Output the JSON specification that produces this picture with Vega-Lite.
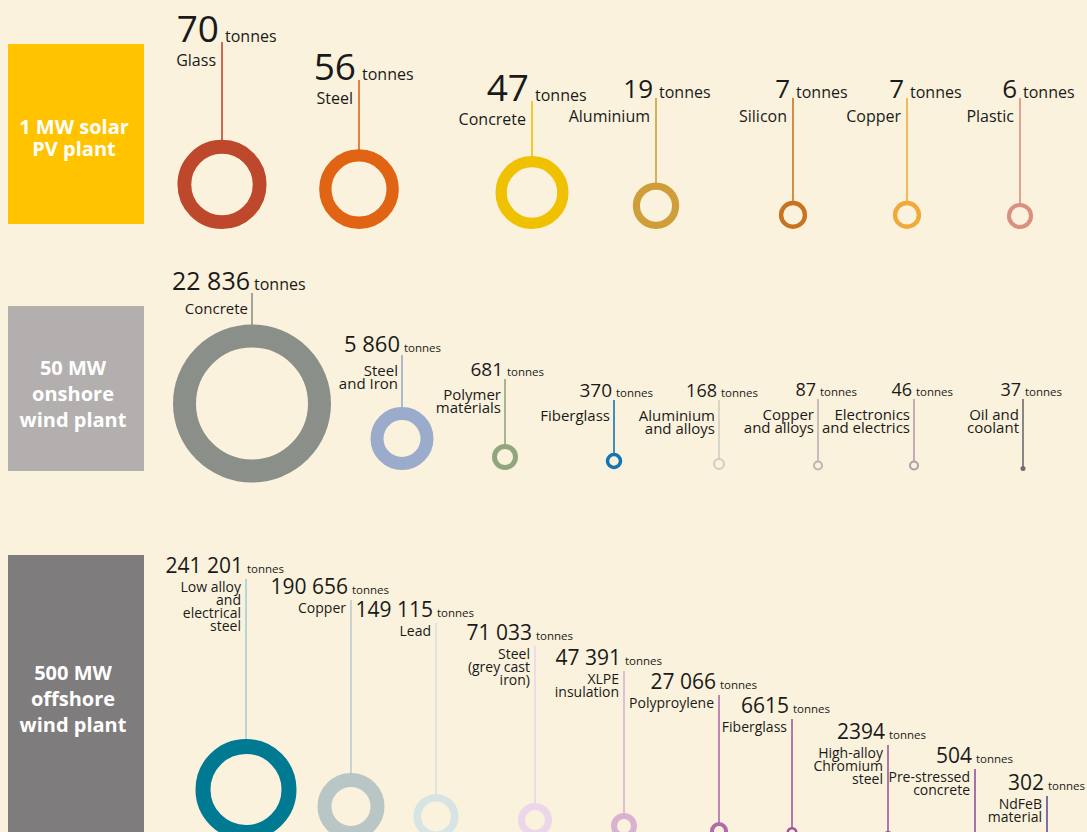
{
  "$schema": "https://vega.github.io/schema/vega-lite/v6.json",
  "width": 1087,
  "height": 832,
  "padding": 0,
  "autosize": "none",
  "background": "#FAF2DC",
  "config": {
    "view": {"stroke": null},
    "locale": {"number": {"decimal": ".", "thousands": " ", "grouping": [3], "currency": ["", ""]}},
    "text": {"font": "Open Sans"}
  },
  "datasets": {
    "plants": [
      {"plant": "1 MW solar PV plant", "order": 0, "label": "1 MW solar\nPV plant"},
      {"plant": "50 MW onshore wind plant", "order": 0, "label": "50 MW\nonshore\nwind plant"},
      {"plant": "500 MW offshore wind plant", "order": 0, "label": "500 MW\noffshore\nwind plant"}
    ],
    "materials": [
      {"plant": "1 MW solar PV plant", "order": 1, "material": "Glass", "value": 70},
      {"plant": "1 MW solar PV plant", "order": 2, "material": "Steel", "value": 56},
      {"plant": "1 MW solar PV plant", "order": 3, "material": "Concrete", "value": 47},
      {"plant": "1 MW solar PV plant", "order": 4, "material": "Aluminium", "value": 19},
      {"plant": "1 MW solar PV plant", "order": 5, "material": "Silicon", "value": 7},
      {"plant": "1 MW solar PV plant", "order": 6, "material": "Copper", "value": 7},
      {"plant": "1 MW solar PV plant", "order": 7, "material": "Plastic", "value": 6},
      {"plant": "50 MW onshore wind plant", "order": 1, "material": "Concrete", "value": 22836},
      {"plant": "50 MW onshore wind plant", "order": 2, "material": "Steel\nand Iron", "value": 5860},
      {"plant": "50 MW onshore wind plant", "order": 3, "material": "Polymer\nmaterials", "value": 681},
      {"plant": "50 MW onshore wind plant", "order": 4, "material": "Fiberglass", "value": 370},
      {"plant": "50 MW onshore wind plant", "order": 5, "material": "Aluminium\nand alloys", "value": 168},
      {"plant": "50 MW onshore wind plant", "order": 6, "material": "Copper\nand alloys", "value": 87},
      {"plant": "50 MW onshore wind plant", "order": 7, "material": "Electronics\nand electrics", "value": 46},
      {"plant": "50 MW onshore wind plant", "order": 8, "material": "Oil and\ncoolant", "value": 37},
      {"plant": "500 MW offshore wind plant", "order": 1, "material": "Low alloy\nand\nelectrical\nsteel", "value": 241201},
      {"plant": "500 MW offshore wind plant", "order": 2, "material": "Copper", "value": 190656},
      {"plant": "500 MW offshore wind plant", "order": 3, "material": "Lead", "value": 149115},
      {"plant": "500 MW offshore wind plant", "order": 4, "material": "Steel\n(grey cast\niron)", "value": 71033},
      {"plant": "500 MW offshore wind plant", "order": 5, "material": "XLPE\ninsulation", "value": 47391},
      {"plant": "500 MW offshore wind plant", "order": 6, "material": "Polyproylene", "value": 27066},
      {"plant": "500 MW offshore wind plant", "order": 7, "material": "Fiberglass", "value": 6615},
      {"plant": "500 MW offshore wind plant", "order": 8, "material": "High-alloy\nChromium\nsteel", "value": 2394},
      {"plant": "500 MW offshore wind plant", "order": 9, "material": "Pre-stressed\nconcrete", "value": 504},
      {"plant": "500 MW offshore wind plant", "order": 10, "material": "NdFeB\nmaterial", "value": 302}
    ]
  },
  "layer": [
    {
      "data": {"name": "materials"},
      "transform": [{"filter": "datum.plant == '1 MW solar PV plant'"}],
      "encoding": {
        "x": {"field": "order", "type": "quantitative", "axis": null,
              "scale": {"domain": [0, 1, 2, 3, 4, 5, 6, 7], "range": [76, 222, 359, 532, 656, 793, 907, 1020], "nice": false, "zero": false}}
      },
      "layer": [
        {
          "data": {"name": "plants"},
          "transform": [{"filter": "datum.plant == '1 MW solar PV plant'"}],
          "mark": {"type": "point", "shape": "M-1,-1.3235H1V1.3235H-1Z", "size": 18496, "filled": true, "fill": "#FFC300", "opacity": 1, "strokeWidth": 0},
          "encoding": {"y": {"field": "order", "type": "quantitative", "axis": null, "scale": {"domain": [0, 1, 2, 3, 4, 5, 6, 7], "range": [134, 42, 80, 101, 98, 98, 98, 98], "nice": false, "zero": false}}}
        },
        {
          "data": {"name": "plants"},
          "transform": [{"filter": "datum.plant == '1 MW solar PV plant'"}],
          "mark": {"type": "text", "align": "center", "baseline": "middle", "lineBreak": "\n", "lineHeight": 22, "fontSize": 20, "fontWeight": "bold", "font": "Open Sans", "color": "#FFFFFF", "dx": -2, "dy": -6},
          "encoding": {
            "y": {"field": "order", "type": "quantitative", "axis": null, "scale": {"domain": [0, 1, 2, 3, 4, 5, 6, 7], "range": [134, 42, 80, 101, 98, 98, 98, 98], "nice": false, "zero": false}},
            "text": {"field": "label", "type": "nominal"}
          }
        },
        {
          "mark": {"type": "rule", "strokeWidth": 1.6},
          "encoding": {
            "y": {"field": "order", "type": "quantitative", "axis": null, "scale": {"domain": [0, 1, 2, 3, 4, 5, 6, 7], "range": [134, 42, 80, 101, 98, 98, 98, 98], "nice": false, "zero": false}},
            "y2": {"value": 225},
            "stroke": {"field": "order", "type": "ordinal", "legend": null, "scale": {"domain": [1, 2, 3, 4, 5, 6, 7], "range": ["#BE482C", "#E06414", "#F0C100", "#CF9E3B", "#C8731F", "#F0AA3A", "#DA8F80"]}}
          }
        },
        {
          "mark": {"type": "point", "shape": "circle", "filled": true, "fill": "#FAF2DC", "opacity": 1},
          "encoding": {
            "y": {"field": "value", "type": "quantitative", "axis": null, "scale": {"type": "sqrt", "domain": [0, 70], "range": [229, 184.4], "nice": false, "zero": false}},
            "size": {"field": "value", "type": "quantitative", "legend": null, "scale": {"type": "linear", "domain": [0, 70], "range": [0, 5668]}},
            "strokeWidth": {"field": "value", "type": "quantitative", "legend": null, "scale": {"type": "sqrt", "domain": [0, 70], "range": [0, 13.8]}},
            "stroke": {"field": "order", "type": "ordinal", "legend": null, "scale": {"domain": [1, 2, 3, 4, 5, 6, 7], "range": ["#BE482C", "#E06414", "#F0C100", "#CF9E3B", "#C8731F", "#F0AA3A", "#DA8F80"]}}
          }
        },
        {
          "mark": {"type": "text", "align": "right", "baseline": "alphabetic", "dx": -3, "font": "Open Sans", "color": "#1A1A1A"},
          "encoding": {
            "y": {"field": "order", "type": "quantitative", "axis": null, "scale": {"domain": [0, 1, 2, 3, 4, 5, 6, 7], "range": [134, 42, 80, 101, 98, 98, 98, 98], "nice": false, "zero": false}},
            "text": {"field": "value", "type": "quantitative", "format": ",d"},
            "size": {"field": "value", "type": "quantitative", "legend": null, "scale": {"domain": [6, 19, 47, 70], "range": [26, 26, 37, 37], "zero": false}}
          }
        },
        {
          "mark": {"type": "text", "align": "left", "baseline": "alphabetic", "dx": 3, "fontSize": 16, "font": "Open Sans", "color": "#1A1A1A", "text": "tonnes"},
          "encoding": {
            "y": {"field": "order", "type": "quantitative", "axis": null, "scale": {"domain": [0, 1, 2, 3, 4, 5, 6, 7], "range": [134, 42, 80, 101, 98, 98, 98, 98], "nice": false, "zero": false}}
          }
        },
        {
          "mark": {"type": "text", "align": "right", "baseline": "alphabetic", "dx": -6, "dy": 24, "fontSize": 16, "lineBreak": "\n", "lineHeight": 14, "font": "Open Sans", "color": "#1A1A1A"},
          "encoding": {
            "y": {"field": "order", "type": "quantitative", "axis": null, "scale": {"domain": [0, 1, 2, 3, 4, 5, 6, 7], "range": [134, 42, 80, 101, 98, 98, 98, 98], "nice": false, "zero": false}},
            "text": {"field": "material", "type": "nominal"}
          }
        }
      ],
      "resolve": {"scale": {"y": "independent", "stroke": "independent", "size": "independent"}}
    },
    {
      "data": {"name": "materials"},
      "transform": [{"filter": "datum.plant == '50 MW onshore wind plant'"}],
      "encoding": {
        "x": {"field": "order", "type": "quantitative", "axis": null,
              "scale": {"domain": [0, 1, 2, 3, 4, 5, 6, 7, 8], "range": [76, 252, 402, 505, 614, 719, 818, 914, 1023], "nice": false, "zero": false}}
      },
      "layer": [
        {
          "data": {"name": "plants"},
          "transform": [{"filter": "datum.plant == '50 MW onshore wind plant'"}],
          "mark": {"type": "point", "shape": "M-1,-1.2132H1V1.2132H-1Z", "size": 18496, "filled": true, "fill": "#B3AFAF", "opacity": 1, "strokeWidth": 0},
          "encoding": {"y": {"field": "order", "type": "quantitative", "axis": null, "scale": {"domain": [0, 1, 2, 3, 4, 5, 6, 7, 8], "range": [388.5, 290, 352, 376, 397, 397, 396, 396, 396], "nice": false, "zero": false}}}
        },
        {
          "data": {"name": "plants"},
          "transform": [{"filter": "datum.plant == '50 MW onshore wind plant'"}],
          "mark": {"type": "text", "align": "center", "baseline": "middle", "lineBreak": "\n", "lineHeight": 26, "fontSize": 20, "fontWeight": "bold", "font": "Open Sans", "color": "#FFFFFF", "dx": -3, "dy": -20},
          "encoding": {
            "y": {"field": "order", "type": "quantitative", "axis": null, "scale": {"domain": [0, 1, 2, 3, 4, 5, 6, 7, 8], "range": [388.5, 290, 352, 376, 397, 397, 396, 396, 396], "nice": false, "zero": false}},
            "text": {"field": "label", "type": "nominal"}
          }
        },
        {
          "mark": {"type": "rule", "strokeWidth": 1.6, "yOffset": 3},
          "encoding": {
            "y": {"field": "order", "type": "quantitative", "axis": null, "scale": {"domain": [0, 1, 2, 3, 4, 5, 6, 7, 8], "range": [388.5, 290, 352, 376, 397, 397, 396, 396, 396], "nice": false, "zero": false}},
            "y2": {"value": 467},
            "stroke": {"field": "order", "type": "ordinal", "legend": null, "scale": {"domain": [1, 2, 3, 4, 5, 6, 7, 8], "range": ["#8A9089", "#9BABCB", "#91A67E", "#1675B0", "#D3CBC1", "#C2AEB5", "#B39CA8", "#6F6A70"]}}
          }
        },
        {
          "mark": {"type": "point", "shape": "circle", "filled": true, "fill": "#FAF2DC", "opacity": 1},
          "encoding": {
            "y": {"field": "value", "type": "quantitative", "axis": null, "scale": {"domain": [37, 46, 87, 168, 370, 681, 5860, 22836], "range": [468.5, 465.5, 465.5, 464, 461, 457, 438.5, 403.5], "nice": false, "zero": false}},
            "size": {"field": "value", "type": "quantitative", "legend": null, "scale": {"domain": [37, 46, 87, 168, 370, 681, 5860, 22836], "range": [6.25, 64, 64, 100, 169, 441, 2500, 18225], "zero": false}},
            "strokeWidth": {"field": "value", "type": "quantitative", "legend": null, "scale": {"domain": [37, 46, 87, 168, 370, 681, 5860, 22836], "range": [2.5, 2, 2, 2, 3.5, 5, 13, 23], "zero": false}},
            "stroke": {"field": "order", "type": "ordinal", "legend": null, "scale": {"domain": [1, 2, 3, 4, 5, 6, 7, 8], "range": ["#8A9089", "#9BABCB", "#91A67E", "#1675B0", "#D3CBC1", "#C4B3B5", "#B39CA8", "#6F6A70"]}}
          }
        },
        {
          "mark": {"type": "text", "align": "right", "baseline": "alphabetic", "dx": -2, "font": "Open Sans", "color": "#1A1A1A"},
          "encoding": {
            "y": {"field": "order", "type": "quantitative", "axis": null, "scale": {"domain": [0, 1, 2, 3, 4, 5, 6, 7, 8], "range": [388.5, 290, 352, 376, 397, 397, 396, 396, 396], "nice": false, "zero": false}},
            "text": {"field": "value", "type": "quantitative", "format": ",d"},
            "size": {"field": "value", "type": "quantitative", "legend": null, "scale": {"domain": [37, 168, 370, 681, 5860, 22836], "range": [18, 18, 19, 19, 22, 25], "zero": false}}
          }
        },
        {
          "mark": {"type": "text", "align": "left", "baseline": "alphabetic", "dx": 2, "font": "Open Sans", "color": "#1A1A1A", "text": "tonnes"},
          "encoding": {
            "y": {"field": "order", "type": "quantitative", "axis": null, "scale": {"domain": [0, 1, 2, 3, 4, 5, 6, 7, 8], "range": [388.5, 290, 352, 376, 397, 397, 396, 396, 396], "nice": false, "zero": false}},
            "size": {"field": "value", "type": "quantitative", "legend": null, "scale": {"domain": [37, 5860, 22836], "range": [11.5, 11.5, 16], "zero": false}}
          }
        },
        {
          "mark": {"type": "text", "align": "right", "baseline": "alphabetic", "dx": -4, "dy": 24, "fontSize": 15, "lineBreak": "\n", "lineHeight": 13, "font": "Open Sans", "color": "#1A1A1A"},
          "encoding": {
            "y": {"field": "order", "type": "quantitative", "axis": null, "scale": {"domain": [0, 1, 2, 3, 4, 5, 6, 7, 8], "range": [388.5, 290, 352, 376, 397, 397, 396, 396, 396], "nice": false, "zero": false}},
            "text": {"field": "material", "type": "nominal"}
          }
        }
      ],
      "resolve": {"scale": {"y": "independent", "stroke": "independent", "size": "independent"}}
    },
    {
      "data": {"name": "materials"},
      "transform": [{"filter": "datum.plant == '500 MW offshore wind plant'"}],
      "encoding": {
        "x": {"field": "order", "type": "quantitative", "axis": null,
              "scale": {"domain": [0, 1, 2, 3, 4, 5, 6, 7, 8, 9, 10], "range": [76, 246, 351, 436, 535, 624, 719, 792, 888, 975, 1047], "nice": false, "zero": false}}
      },
      "layer": [
        {
          "data": {"name": "plants"},
          "transform": [{"filter": "datum.plant == '500 MW offshore wind plant'"}],
          "mark": {"type": "point", "shape": "M-1,-2.1324H1V2.1324H-1Z", "size": 18496, "filled": true, "fill": "#7F7C7D", "opacity": 1, "strokeWidth": 0},
          "encoding": {"y": {"field": "order", "type": "quantitative", "axis": null, "scale": {"domain": [0, 1, 2, 3, 4, 5, 6, 7, 8, 9, 10], "range": [700, 573, 594, 617, 640, 665, 689, 713, 739, 763, 790], "nice": false, "zero": false}}}
        },
        {
          "data": {"name": "plants"},
          "transform": [{"filter": "datum.plant == '500 MW offshore wind plant'"}],
          "mark": {"type": "text", "align": "center", "baseline": "middle", "lineBreak": "\n", "lineHeight": 26, "fontSize": 20, "fontWeight": "bold", "font": "Open Sans", "color": "#FFFFFF", "dx": -3, "dy": -26},
          "encoding": {
            "y": {"field": "order", "type": "quantitative", "axis": null, "scale": {"domain": [0, 1, 2, 3, 4, 5, 6, 7, 8, 9, 10], "range": [700, 573, 594, 617, 640, 665, 689, 713, 739, 763, 790], "nice": false, "zero": false}},
            "text": {"field": "label", "type": "nominal"}
          }
        },
        {
          "mark": {"type": "rule", "strokeWidth": 1.6, "yOffset": 6},
          "encoding": {
            "y": {"field": "order", "type": "quantitative", "axis": null, "scale": {"domain": [0, 1, 2, 3, 4, 5, 6, 7, 8, 9, 10], "range": [700, 573, 594, 617, 640, 665, 689, 713, 739, 763, 790], "nice": false, "zero": false}},
            "y2": {"value": 845},
            "stroke": {"field": "order", "type": "ordinal", "legend": null, "scale": {"domain": [1, 2, 3, 4, 5, 6, 7, 8, 9, 10], "range": ["#A8CDD5", "#BACCCD", "#D2E3E2", "#EAD5EA", "#D9B2D4", "#AE6CAA", "#A25AA0", "#9A58A0", "#8E52A0", "#5B4FA0"]}}
          }
        },
        {
          "mark": {"type": "point", "shape": "circle", "filled": true, "fill": "#FAF2DC", "opacity": 1},
          "encoding": {
            "y": {"field": "value", "type": "quantitative", "axis": null, "scale": {"domain": [302, 504, 2394, 6615, 27066, 47391, 71033, 149115, 190656, 241201], "range": [838, 837, 835, 832.5, 831, 826, 820, 816.5, 806.5, 789.5], "nice": false, "zero": false}},
            "size": {"field": "value", "type": "quantitative", "legend": null, "scale": {"domain": [302, 504, 2394, 6615, 27066, 47391, 71033, 149115, 190656, 241201], "range": [16, 25, 36, 72.25, 196, 400, 729, 1406.25, 2809, 7396], "zero": false}},
            "strokeWidth": {"field": "value", "type": "quantitative", "legend": null, "scale": {"domain": [302, 504, 2394, 6615, 27066, 47391, 71033, 149115, 190656, 241201], "range": [2, 2, 2, 2.5, 4, 6, 7, 7.5, 14, 15], "zero": false}},
            "stroke": {"field": "order", "type": "ordinal", "legend": null, "scale": {"domain": [1, 2, 3, 4, 5, 6, 7, 8, 9, 10], "range": ["#007A92", "#B9C6C6", "#D6E5E3", "#ECD7EA", "#D9B1D3", "#B06BA9", "#A2529C", "#9A4F99", "#8C4C9A", "#5C4C9C"]}}
          }
        },
        {
          "mark": {"type": "text", "align": "right", "baseline": "alphabetic", "dx": -3, "fontSize": 21, "font": "Open Sans", "color": "#1A1A1A"},
          "encoding": {
            "y": {"field": "order", "type": "quantitative", "axis": null, "scale": {"domain": [0, 1, 2, 3, 4, 5, 6, 7, 8, 9, 10], "range": [700, 573, 594, 617, 640, 665, 689, 713, 739, 763, 790], "nice": false, "zero": false}},
            "text": {"condition": {"test": "datum.value < 10000", "field": "value", "type": "quantitative", "format": "d"}, "field": "value", "type": "quantitative", "format": ",d"}
          }
        },
        {
          "mark": {"type": "text", "align": "left", "baseline": "alphabetic", "dx": 1, "fontSize": 11.5, "font": "Open Sans", "color": "#1A1A1A", "text": "tonnes"},
          "encoding": {
            "y": {"field": "order", "type": "quantitative", "axis": null, "scale": {"domain": [0, 1, 2, 3, 4, 5, 6, 7, 8, 9, 10], "range": [700, 573, 594, 617, 640, 665, 689, 713, 739, 763, 790], "nice": false, "zero": false}}
          }
        },
        {
          "mark": {"type": "text", "align": "right", "baseline": "alphabetic", "dx": -5, "dy": 19, "fontSize": 14, "lineBreak": "\n", "lineHeight": 13, "font": "Open Sans", "color": "#1A1A1A"},
          "encoding": {
            "y": {"field": "order", "type": "quantitative", "axis": null, "scale": {"domain": [0, 1, 2, 3, 4, 5, 6, 7, 8, 9, 10], "range": [700, 573, 594, 617, 640, 665, 689, 713, 739, 763, 790], "nice": false, "zero": false}},
            "text": {"field": "material", "type": "nominal"}
          }
        }
      ],
      "resolve": {"scale": {"y": "independent", "stroke": "independent", "size": "independent"}}
    }
  ],
  "resolve": {"scale": {"x": "independent", "y": "independent", "size": "independent", "strokeWidth": "independent", "stroke": "independent"}}
}
